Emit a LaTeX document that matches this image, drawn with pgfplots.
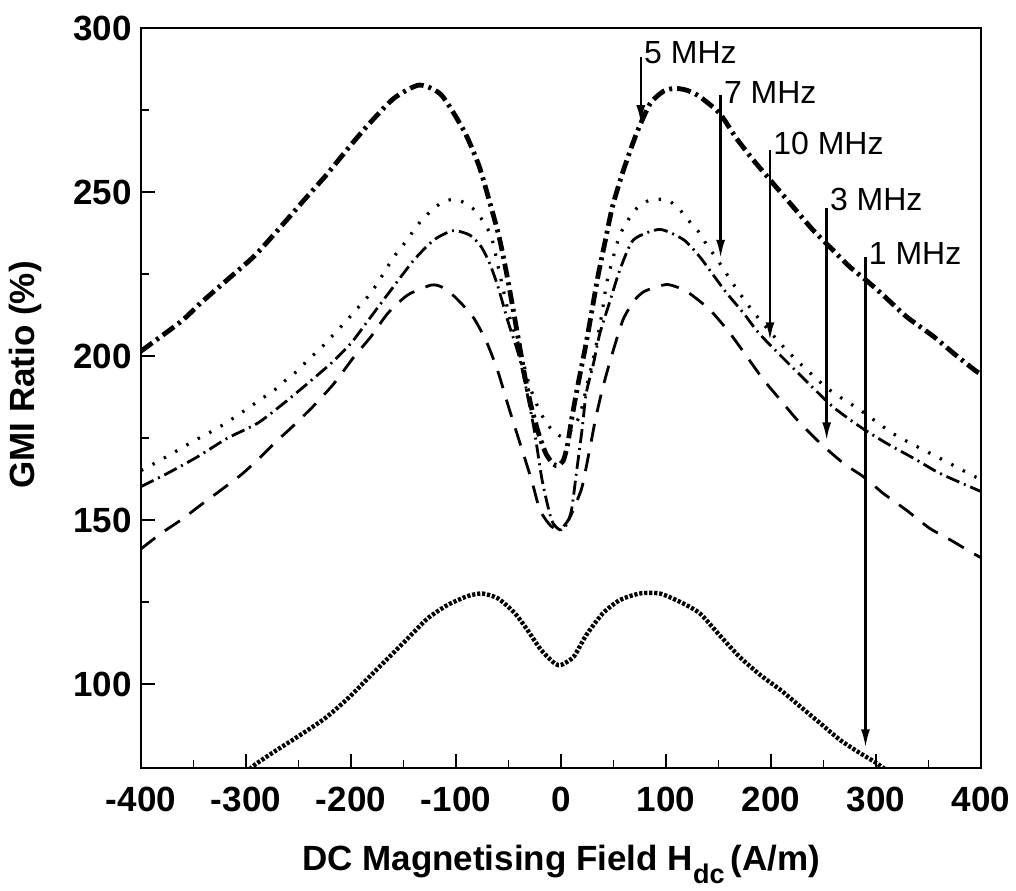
\documentclass[border=0pt]{standalone}
\usepackage{fontspec}
\setmainfont{Liberation Sans}
\usepackage{pgfplots}
\pgfplotsset{compat=1.18}
\usetikzlibrary{arrows.meta}

\pgfplotstableread{
x y
-400 201.5
-362 210.5
-343 216.2
-318 223.2
-292 230.5
-268 239.0
-244 247.8
-224 255.0
-202 263.6
-183 270.7
-159 278.6
-135 282.6
-114 279.6
-92 268.4
-78 257.9
-68 247.0
-59 236.4
-52 225.5
-46 215.0
-40 204.0
-34 193.0
-28 184.1
-21 176.0
-14 170.0
-7 167.0
-3 166.6
2 168.0
6 172.5
10 180.5
16 191.0
23 202.3
29 213.0
35 224.0
42 234.9
49 245.5
59 256.2
72 267.9
85 277.0
98 280.8
109 281.6
120 281.0
132 279.1
151 274.0
167 266.4
183 259.8
202 252.6
221 245.5
240 238.4
259 232.3
275 227.2
291 223.0
307 218.5
329 212.0
355 205.9
374 200.8
394 195.7
400 194.5
}\fivemhz

\pgfplotstableread{
x y
-400 165.1
-387 167.3
-373 169.8
-360 172.2
-348 174.4
-335 176.6
-322 179.0
-310 181.5
-298 184.1
-286 186.8
-273 189.6
-262 192.7
-251 195.5
-241 198.8
-229 202.3
-217 206.4
-205 210.5
-194 214.5
-184 218.1
-176 221.6
-168 225.7
-159 230.3
-149 234.4
-140 238.4
-132 241.7
-122 244.7
-111 247.3
-98 247.6
-84 245.0
-74 241.0
-66 236.0
-59 226.0
-49 212.0
-39 202.0
-30 191.0
-20 183.0
-10 178.0
0 175.5
10 177.5
18 182.0
24 190.0
32 201.0
39 213.0
44 223.0
55 236.0
63 241.0
72 245.0
85 247.6
101 247.6
112 245.0
121 241.5
131 237.9
139 233.8
148 229.8
165 221.5
183 213.5
210 203.4
231 196.7
256 189.6
285 183.5
316 176.4
342 171.9
367 167.8
393 163.4
400 162.5
}\sevenmhz

\pgfplotstableread{
x y
-400 160.2
-375 164.2
-346 169.3
-318 174.9
-289 179.5
-264 185.6
-241 191.7
-219 197.8
-200 203.9
-181 212.0
-162 220.1
-140 229.3
-121 235.4
-103 238.2
-87 236.9
-76 233.3
-68 228.3
-60 221.1
-50 210.0
-39 198.8
-26 178.4
-18 162.2
-9 150.0
-1 147.0
5 148.5
10 153.0
15 165.2
20 177.4
24 188.6
31 197.8
37 206.9
47 217.1
56 226.2
69 235.4
94 238.6
117 235.4
132 230.3
145 224.7
158 219.1
174 213.0
186 207.9
199 203.4
234 192.2
259 184.5
285 178.4
310 173.4
336 168.8
361 164.2
397 159.1
400 158.7
}\tenmhz

\pgfplotstableread{
x y
-400 141.2
-381 145.9
-362 150.0
-343 154.6
-324 159.1
-305 163.7
-289 168.3
-273 173.4
-254 179.0
-235 185.0
-216 191.7
-197 199.8
-181 205.9
-165 213.0
-146 218.6
-124 221.6
-114 221.1
-101 218.0
-84 212.0
-71 204.4
-60 195.2
-51 185.6
-42 176.4
-33 167.3
-27 161.0
-20 153.0
-10 148.3
-1 147.0
8 150.5
14 155.0
20 160.0
27 171.0
33 181.0
40 190.6
48 199.8
59 211.0
70 217.0
80 219.8
101 221.8
120 219.6
142 214.0
161 206.9
177 199.8
193 192.7
209 186.6
225 180.5
247 173.4
269 167.3
288 163.2
307 158.1
329 153.0
351 147.5
371 143.9
390 140.3
400 138.5
}\threemhz

\pgfplotstableread{
x y
-300 73.0
-292 75.3
-273 79.4
-251 83.9
-225 89.5
-203 95.6
-184 101.7
-165 107.8
-146 113.9
-127 120.0
-108 124.1
-89 126.8
-75 127.6
-60 126.1
-44 121.6
-32 116.5
-19 110.4
-6 106.3
0 105.8
12 108.3
24 114.9
40 121.6
56 125.6
75 127.6
94 127.6
113 125.1
132 121.6
151 114.9
170 108.3
190 102.7
209 98.2
228 93.1
247 88.0
266 82.9
285 78.9
301 75.8
315 72.5
}\onemhz

\begin{document}
\begin{tikzpicture}
\path[use as bounding box] (-70.5pt,-61pt) rectangle (437.5pt,384pt);
\begin{axis}[
  at={(0pt,0pt)}, anchor=south west,
  width=420pt, height=370pt, scale only axis,
  xmin=-400, xmax=400, ymin=74.4, ymax=300,
  xtick={-400,-300,...,400}, ytick={100,150,...,300},
  minor x tick num=1, minor y tick num=1,
  tick pos=left, tick align=inside,
  major tick length=7pt, minor tick length=4pt,
  axis line style={line width=1pt},
  every tick/.style={line width=0.9pt, black},
  ticklabel style={font=\fontsize{17.5}{21}\selectfont\bfseries},
  /pgf/number format/assume math mode=true,
  xticklabel style={inner sep=0pt, yshift=-9.5pt},
  yticklabel style={inner sep=0pt, xshift=-4.5pt},
  clip mode=individual,
  xlabel={DC Magnetising Field H\raisebox{-6.5pt}{\fontsize{13.5}{14}\selectfont dc}\,(A/m)},
  xlabel style={font=\fontsize{17.5}{21}\selectfont\bfseries, at={(axis description cs:0.5,-0.139)}, anchor=base},
  ylabel={GMI Ratio (\%)},
  ylabel style={font=\fontsize{17.5}{21}\selectfont\bfseries, at={(axis description cs:-0.138,0.531)}, anchor=center},
]
\addplot[black, line width=2.4pt, dash pattern=on 7pt off 2.5pt on 1.5pt off 2.5pt, smooth, tension=0.4] table {\fivemhz};
\addplot[black, line width=1.6pt, dash pattern=on 1.2pt off 5.3pt, smooth, tension=0.4] table {\sevenmhz};
\addplot[black, line width=1.4pt, dash pattern=on 7pt off 2.5pt on 1pt off 2.5pt, smooth, tension=0.4] table {\tenmhz};
\addplot[black, line width=1.4pt, dash pattern=on 9pt off 6pt, smooth, tension=0.4] table {\threemhz};
\addplot[black, line width=2.2pt, dash pattern=on 1.6pt off 0.9pt, smooth, tension=0.4] table {\onemhz};

\draw[line width=1.2pt, -{Latex[length=9pt,width=4.5pt]}] (axis cs:76,291.2) -- (axis cs:76,271);
\draw[line width=1.2pt, -{Latex[length=9pt,width=4.5pt]}] (axis cs:152,279.6) -- (axis cs:152,229.9);
\draw[line width=1.2pt, -{Latex[length=9pt,width=4.5pt]}] (axis cs:199,262.8) -- (axis cs:199,204.8);
\draw[line width=1.2pt, -{Latex[length=9pt,width=4.5pt]}] (axis cs:253,245.1) -- (axis cs:253,174.3);
\draw[line width=1.2pt, -{Latex[length=9pt,width=4.5pt]}] (axis cs:290,230.2) -- (axis cs:290,80.7);

\node[anchor=west, inner sep=0pt, xshift=1.5pt, font=\fontsize{16}{19}\selectfont] at (axis cs:76,292.6) {5 MHz};
\node[anchor=west, inner sep=0pt, xshift=1.5pt, font=\fontsize{16}{19}\selectfont] at (axis cs:152,280.4) {7 MHz};
\node[anchor=west, inner sep=0pt, xshift=1.5pt, font=\fontsize{16}{19}\selectfont] at (axis cs:199,264.9) {10 MHz};
\node[anchor=west, inner sep=0pt, xshift=1.5pt, font=\fontsize{16}{19}\selectfont] at (axis cs:253,247.6) {3 MHz};
\node[anchor=west, inner sep=0pt, xshift=1.5pt, font=\fontsize{16}{19}\selectfont] at (axis cs:290,231.4) {1 MHz};
\end{axis}
\end{tikzpicture}
\end{document}
